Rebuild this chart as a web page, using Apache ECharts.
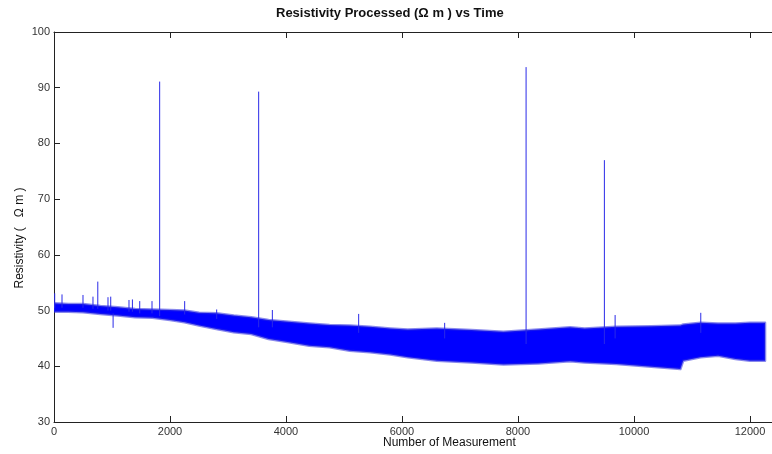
<!DOCTYPE html>
<html><head><meta charset="utf-8">
<script src="https://cdn.jsdelivr.net/npm/echarts@6/dist/echarts.min.js"></script>
<style>html,body{margin:0;padding:0;background:#fff}#c{width:772px;height:454px}</style>
</head><body><div id="c"></div>
<script>
const bandX      = [0, 250, 500, 800, 1100, 1400, 1700, 2000, 2250, 2500, 2800, 3100, 3400, 3700, 4050, 4400, 4750, 5100, 5450, 5800, 6100, 6600, 7200, 7750, 8350, 8900, 9150, 9700, 10300, 10800, 10850, 11150, 11450, 11750, 12000, 12260];
const bandTop    = [51.3, 51.2, 51.2, 50.8, 50.6, 50.3, 50.2, 50.1, 50.0, 49.6, 49.5, 49.1, 48.8, 48.3, 48.0, 47.7, 47.4, 47.3, 47.1, 46.8, 46.6, 46.8, 46.5, 46.2, 46.6, 47.0, 46.8, 47.1, 47.2, 47.3, 47.5, 47.8, 47.7, 47.7, 47.8, 47.8];
const bandBottom = [49.8, 49.8, 49.7, 49.4, 49.1, 48.8, 48.7, 48.3, 47.9, 47.3, 46.7, 46.1, 45.8, 44.9, 44.3, 43.7, 43.4, 42.8, 42.5, 42.1, 41.6, 41.0, 40.7, 40.3, 40.5, 40.9, 40.7, 40.4, 39.9, 39.5, 41.0, 41.6, 41.9, 41.3, 41.0, 41.0];

// Isolated spikes: position, peak value, value where the spike leaves the band
const spikeX    = [1822, 3529, 8140, 9490, 12, 138, 500, 672, 755, 931, 978, 1019, 1293, 1352, 1478, 1690, 2253, 2805, 3765, 5253, 6736, 9675, 11152];
const spikePeak = [91.1, 89.3, 93.7, 77.0, 53.1, 52.9, 52.8, 52.5, 55.2, 52.4, 52.5, 46.9, 51.9, 52.0, 51.7, 51.7, 51.7, 50.2, 50.1, 49.4, 47.8, 49.2, 49.6];
const spikeBase = [49.0, 47.0, 44.0, 44.0, 50.5, 50.5, 50.5, 50.3, 50.3, 50.0, 50.0, 49.5, 49.8, 49.8, 49.5, 49.5, 49.3, 48.5, 47.0, 46.0, 45.0, 45.0, 46.0];

const xMin = 0, xMax = 12380, xStep = 2000;
const yMin = 30, yMax = 100, yStep = 10;

const spikeData = spikeX.map((x, i) => [x, spikeBase[i], spikePeak[i]]);

const FONT = '"Liberation Sans", Arial, Helvetica, sans-serif';
const axisCommon = {
  axisLine: { show: true, onZero: false, lineStyle: { color: '#222', width: 1 } },
  axisTick: { show: true, inside: true, length: 6, lineStyle: { color: '#222' } },
  splitLine: { show: false }
};

const chart = echarts.init(document.getElementById('c'), null, { renderer: 'canvas' });
chart.setOption({
  animation: false,
  backgroundColor: '#fff',
  grid: { left: 54, right: 0, top: 32, bottom: 32, containLabel: false },
  xAxis: [
    Object.assign({ type: 'value', min: xMin, max: xMax, interval: xStep, position: 'bottom',
      axisLabel: { color: '#333', fontSize: 11, fontFamily: FONT, margin: 4, formatter: v => String(v) } }, axisCommon),
    Object.assign({ type: 'value', min: xMin, max: xMax, interval: xStep, position: 'top',
      axisLabel: { show: false } }, axisCommon)
  ],
  yAxis: Object.assign({ type: 'value', min: yMin, max: yMax, interval: yStep,
    axisLabel: { color: '#333', fontSize: 11, fontFamily: FONT, margin: 4 } }, axisCommon),
  graphic: [
    { type: 'text', left: 276, top: 7, style: { text: 'Resistivity Processed (\u03A9 m ) vs Time', font: 'bold 13px ' + FONT, fill: '#111' } },
    { type: 'text', left: 383, top: 437, style: { text: 'Number of Measurement', font: '12px ' + FONT, fill: '#111' } },
    { type: 'text', x: 20, y: 238, rotation: Math.PI / 2, style: { text: 'Resistivity (   \u03A9 m )', font: '12px ' + FONT, fill: '#111', align: 'center', verticalAlign: 'middle' } }
  ],
  series: [
    {
      type: 'custom', xAxisIndex: 0, yAxisIndex: 0, silent: true, clip: true,
      data: [[bandX[0], bandTop[0]]],
      renderItem: function (params, api) {
        const pts = [];
        for (let i = 0; i < bandX.length; i++) pts.push(api.coord([bandX[i], bandTop[i]]));
        for (let i = bandX.length - 1; i >= 0; i--) pts.push(api.coord([bandX[i], bandBottom[i]]));
        return { type: 'polygon', shape: { points: pts }, style: { fill: '#0000ff', stroke: 'rgba(40,40,220,0.55)', lineWidth: 2.5, lineJoin: 'round' } };
      }
    },
    {
      type: 'custom', xAxisIndex: 0, yAxisIndex: 0, silent: true, clip: true,
      data: spikeData,
      encode: { x: 0, y: [1, 2] },
      renderItem: function (params, api) {
        const a = api.coord([api.value(0), api.value(1)]);
        const b = api.coord([api.value(0), api.value(2)]);
        return { type: 'line', shape: { x1: a[0], y1: a[1], x2: b[0], y2: b[1] }, style: { stroke: '#2a2ae8', lineWidth: 1 } };
      }
    }
  ]
});
</script>
</body></html>
